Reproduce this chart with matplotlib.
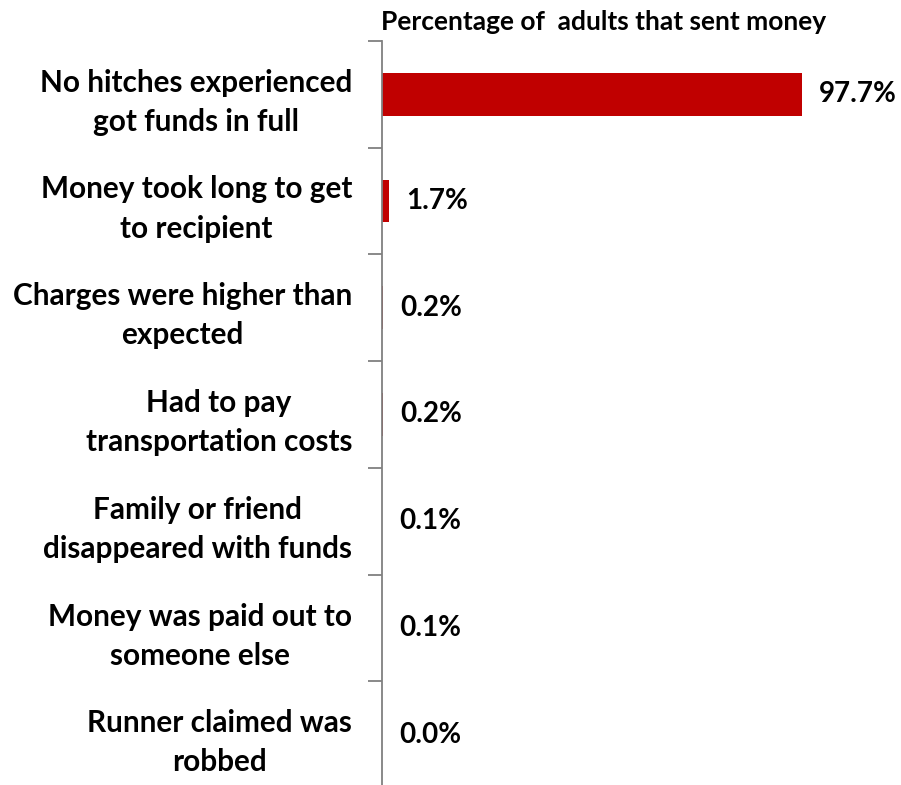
import matplotlib.pyplot as plt
import numpy as np

categories = [
    "No hitches experienced\ngot funds in full",
    "Money took long to get\nto recipient",
    "Charges were higher than\nexpected",
    "Had to pay\ntransportation costs",
    "Family or friend\ndisappeared with funds",
    "Money was paid out to\nsomeone else",
    "Runner claimed was\nrobbed",
]
values = [97.7, 1.7, 0.2, 0.2, 0.1, 0.1, 0.0]
title = "Percentage of  adults that sent money"

plt.rcParams['font.family'] = ['Lato', 'DejaVu Sans']
plt.rcParams['font.weight'] = 'bold'

fig = plt.figure(figsize=(9.01, 7.85), dpi=100)
ax = fig.add_axes([0.424, -0.004, 0.525, 0.952])

y = np.arange(len(categories))
ax.barh(y, values, height=0.4, color='#C00000')
ax.set_ylim(len(categories) - 0.5, -0.5)
ax.set_xlim(0, 110)

# value labels just past the end of each bar
for yi, v in zip(y, values):
    ax.annotate(f"{v:.1f}%", (v, yi), xytext=(17, 0), textcoords='offset pixels',
                ha='left', va='center', fontsize=20, fontweight='bold')

ax.set_yticks(y)
ax.set_yticklabels(categories, fontsize=21.4, fontweight='bold',
                   multialignment='center', linespacing=1.48)
ax.tick_params(axis='y', length=0, pad=21.6)
ax.set_yticks(np.arange(len(categories) + 1) - 0.5, minor=True)
ax.tick_params(axis='y', which='minor', length=10, color='#808080', width=1.3)
ax.set_xticks([])

for side in ['top', 'right', 'bottom']:
    ax.spines[side].set_visible(False)
ax.spines['left'].set_color('#808080')
ax.spines['left'].set_linewidth(1.3)

fig.text(0.423, 0.962, title, ha='left', va='baseline', fontsize=19, fontweight='bold')

fig.savefig('out.png', dpi=100)
